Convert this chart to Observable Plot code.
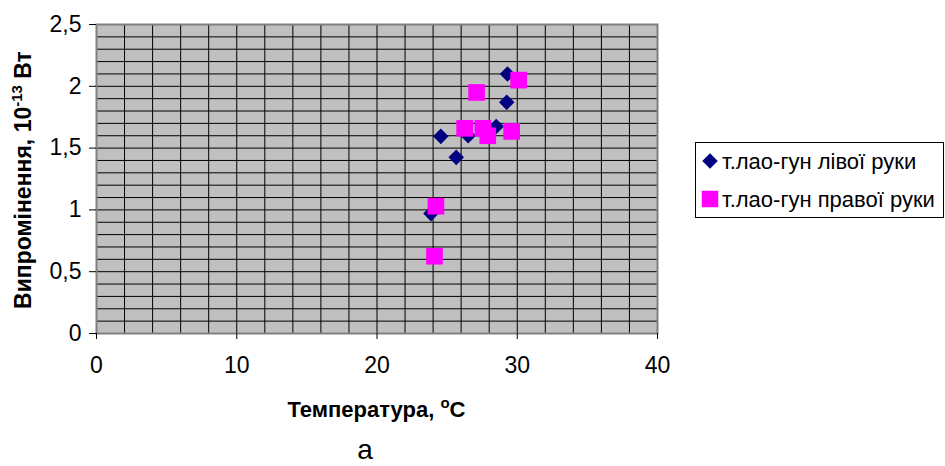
<!DOCTYPE html>
<html>
<head>
<meta charset="utf-8">
<script src="https://cdn.jsdelivr.net/npm/d3@7"></script>
<script src="https://cdn.jsdelivr.net/npm/@observablehq/plot@0.6"></script>
<style>
  html, body { margin: 0; padding: 0; background: #fff; }
  #chart { width: 945px; height: 466px; }
</style>
</head>
<body>
<div id="chart"></div>
<script>
// ---- data ----
const seriesNames = ["т.лао-гун лівої руки", "т.лао-гун правої руки"];
// left hand (navy diamonds)
const tempLeft = [29.3, 29.25, 28.5, 24.55, 26.5, 25.65, 23.85];
const radLeft  = [2.10, 1.87, 1.675, 1.595, 1.60, 1.425, 0.97];
// right hand (magenta squares)
const tempRight = [30.1, 27.1, 26.25, 27.55, 27.9, 29.6, 24.2, 24.1];
const radRight  = [2.05, 1.95, 1.66, 1.66, 1.60, 1.635, 1.03, 0.625];
// axes
const xTicks = [0, 10, 20, 30, 40];
const yTicks = [0, 0.5, 1, 1.5, 2, 2.5];
const xMinor = [0, 2, 4, 6, 8, 10, 12, 14, 16, 18, 20, 22, 24, 26, 28, 30, 32, 34, 36, 38, 40];
const yMinor = [0, 0.1, 0.2, 0.3, 0.4, 0.5, 0.6, 0.7, 0.8, 0.9, 1, 1.1, 1.2, 1.3, 1.4, 1.5, 1.6, 1.7, 1.8, 1.9, 2, 2.1, 2.2, 2.3, 2.4, 2.5];
const xTitle = "Температура, ";
const yTitle = "Випромінення, 10";
const caption = "а";

const left = tempLeft.map((t, i) => ({t, v: radLeft[i]}));
const right = tempRight.map((t, i) => ({t, v: radRight[i]}));

const FONT = "'Liberation Sans', Arial, sans-serif";

const svgEl = Plot.plot({
  width: 945,
  height: 466,
  marginLeft: 96,
  marginRight: 288,
  marginTop: 24,
  marginBottom: 133,
  x: {domain: [0, 40]},
  y: {domain: [0, 2.5]},
  style: {fontFamily: FONT, fontSize: "23px", background: "#fff", color: "#000", overflow: "visible"},
  marks: [
    Plot.frame({fill: "#c0c0c0"}),
    Plot.gridX(xMinor, {stroke: "#000", strokeOpacity: 1, strokeWidth: 1}),
    Plot.gridY(yMinor, {stroke: "#000", strokeOpacity: 1, strokeWidth: 1}),
    Plot.frame({stroke: "#808080", strokeWidth: 2}),
    Plot.axisX(xTicks, {tickSize: 6, tickPadding: 17, label: null, stroke: "#000", fill: "#000"}),
    Plot.axisY(yTicks, {tickSize: 7, tickPadding: 8, label: null, stroke: "#000", fill: "#000",
      tickFormat: d => String(d).replace(".", ",")}),
    Plot.dot(left, {x: "t", y: "v", symbol: "diamond2", r: 7, fill: "#000080", stroke: null}),
    Plot.dot(right, {x: "t", y: "v", symbol: "square", r: 9.4, fill: "#ff00ff", stroke: null})
  ]
});
document.getElementById("chart").appendChild(svgEl);

const svg = d3.select(svgEl);

// y title with superscript
const yt = svg.append("text")
  .attr("transform", "translate(31,180) rotate(-90)")
  .attr("text-anchor", "middle")
  .attr("font-family", FONT)
  .attr("font-weight", "bold")
  .attr("font-size", 23)
  .attr("fill", "#000");
yt.append("tspan").text(yTitle);
yt.append("tspan").attr("font-size", 15).attr("dy", -9).text("-13");
yt.append("tspan").attr("dy", 9).text(" Вт");

// x title with superscript o
const xt = svg.append("text")
  .attr("x", 376.5).attr("y", 417)
  .attr("text-anchor", "middle")
  .attr("font-family", FONT)
  .attr("font-weight", "bold")
  .attr("font-size", 22)
  .attr("fill", "#000");
xt.append("tspan").text(xTitle);
xt.append("tspan").attr("font-size", 15).attr("dy", -9).text("o");
xt.append("tspan").attr("dy", 9).text("C");

// legend
const lg = svg.append("g").attr("font-family", FONT).attr("font-size", 22).attr("text-anchor", "start");
lg.append("rect").attr("x", 695.5).attr("y", 142.5).attr("width", 248).attr("height", 75)
  .attr("fill", "#fff").attr("stroke", "#000").attr("stroke-width", 1);
const legendRows = [
  {name: seriesNames[0], y: 161, sym: d3.symbolDiamond2, size: 153, color: "#000080"},
  {name: seriesNames[1], y: 199, sym: d3.symbolSquare, size: 272, color: "#ff00ff"}
];
legendRows.forEach(r => {
  lg.append("path").attr("d", d3.symbol(r.sym, r.size)())
    .attr("transform", `translate(710,${r.y})`).attr("fill", r.color);
  lg.append("text").attr("x", 722).attr("y", r.y).attr("dy", "0.35em")
    .attr("text-anchor", "start").attr("fill", "#000").text(r.name);
});

// caption
svg.append("text").attr("x", 365).attr("y", 459).attr("text-anchor", "middle")
  .attr("font-family", FONT).attr("font-size", 28).attr("fill", "#000").text(caption);
</script>
</body>
</html>
